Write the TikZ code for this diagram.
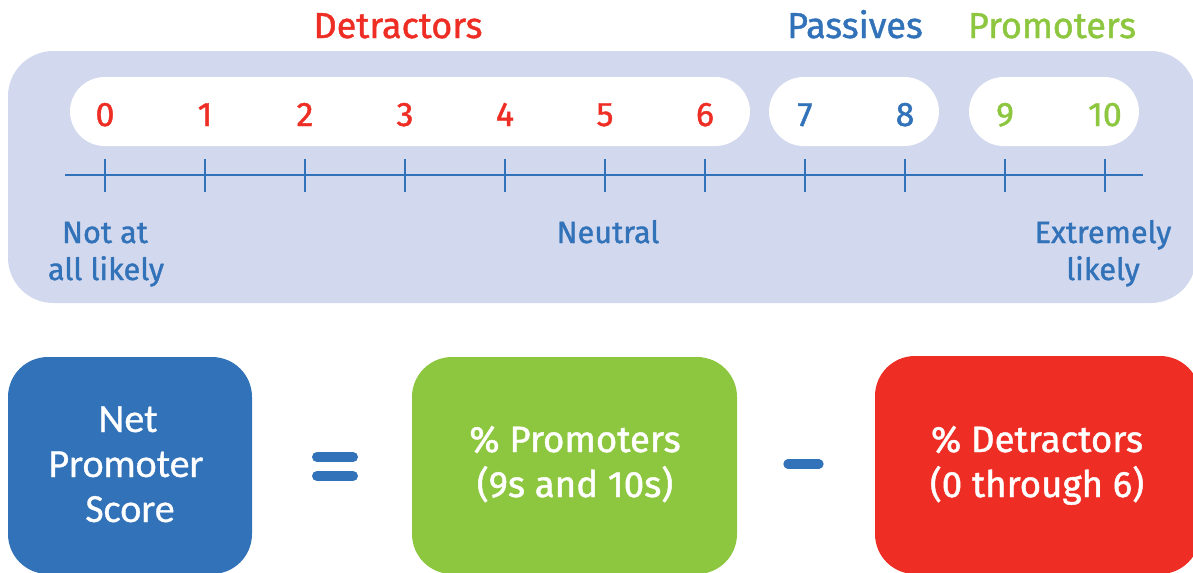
\documentclass[tikz,border=0pt]{standalone}
\usepackage{fontspec}
\setmainfont{Fira Sans}[FakeBold=1.2]
\newfontfamily\calfont{Carlito}[FakeBold=0.8]
\definecolor{nblue}{RGB}{49,114,185}
\definecolor{nred}{RGB}{238,46,36}
\definecolor{ngreen}{RGB}{141,198,63}
\definecolor{npanel}{RGB}{210,216,237}
\begin{document}
\begin{tikzpicture}[x=0.75pt,y=-0.75pt,
  txt/.style={inner sep=0pt,anchor=base},
  head/.style={txt,font=\fontsize{27}{30}\selectfont},
  num/.style={txt,font=\fontsize{25.5}{30}\selectfont},
  lbl/.style={txt,text=nblue,font=\fontsize{23}{26}\selectfont},
  boxtxt/.style={txt,text=white,font=\fontsize{27.5}{30}\selectfont},
  npstxt/.style={txt,text=white,font=\calfont\fontsize{30}{32}\selectfont},
  sumbox/.style={rounded corners=30pt},
  bar/.style={nblue,line cap=round}]
\useasboundingbox (0,0) rectangle (1193,572);
\clip (0,0) rectangle (1193,572);
% panel
\fill[npanel,rounded corners=34pt] (8,51) rectangle (1196,303);
% pills
\fill[white,rounded corners=26pt] (70,77) rectangle (750,146);
\fill[white,rounded corners=26pt] (769,77) rectangle (939,146);
\fill[white,rounded corners=26pt] (969,77) rectangle (1139,146);
% headings
\node[head,text=nred] (hdet) at (398,38) {Detractors};
\node[head,text=nblue] (hpas) at (855,38) {Passives};
\node[head,text=ngreen] (hpro) at (1052,38) {Promoters};
% axis
\coordinate (axl) at (65,175);
\coordinate (axr) at (1143,175);
\draw[nblue,line width=1.5pt] (axl) -- (axr);
\foreach \i in {0,...,10}{
  \draw[nblue,line width=1pt] (105+100*\i,159) -- (105+100*\i,192);
}
\foreach \i in {0,...,6}{
  \node[num,text=nred] (n\i) at (105+100*\i,126) {\i};
}
\foreach \i in {7,8}{
  \node[num,text=nblue] (n\i) at (105+100*\i,126) {\i};
}
\foreach \i in {9,10}{
  \node[num,text=ngreen] (n\i) at (105+100*\i,126) {\i};
}
% scale labels
\node[lbl] (nota) at (105,243) {Not at};
\node[lbl] (notb) at (106,280) {all likely};
\node[lbl] (neut) at (608,243) {Neutral};
\node[lbl] (exta) at (1103,243) {Extremely};
\node[lbl] (extb) at (1103,280) {likely};
% formula boxes
\fill[nblue,sumbox] (8,357) rectangle (252,574);
\fill[ngreen,sumbox] (412,357) rectangle (737,574);
\fill[nred,sumbox] (875,356) rectangle (1200,574);
\node[npstxt] (nps1) at (128,432) {Net};
\node[npstxt] (nps2) at (126,477) {Promoter};
\node[npstxt] (nps3) at (130,522) {Score};
\node[boxtxt] (pro1) at (575,452) {\% Promoters};
\node[boxtxt] (pro2) at (575,497) {(9s and 10s)};
\node[boxtxt] (det1) at (1037,452) {\% Detractors};
\node[boxtxt] (det2) at (1037,497) {(0 through 6)};
% operators
\draw[bar,line width=7.5pt] (317,457) -- (353,457);
\draw[bar,line width=7.5pt] (317,476) -- (353,476);
\draw[bar,line width=7pt] (788,464) -- (819,464);
\end{tikzpicture}
\end{document}
